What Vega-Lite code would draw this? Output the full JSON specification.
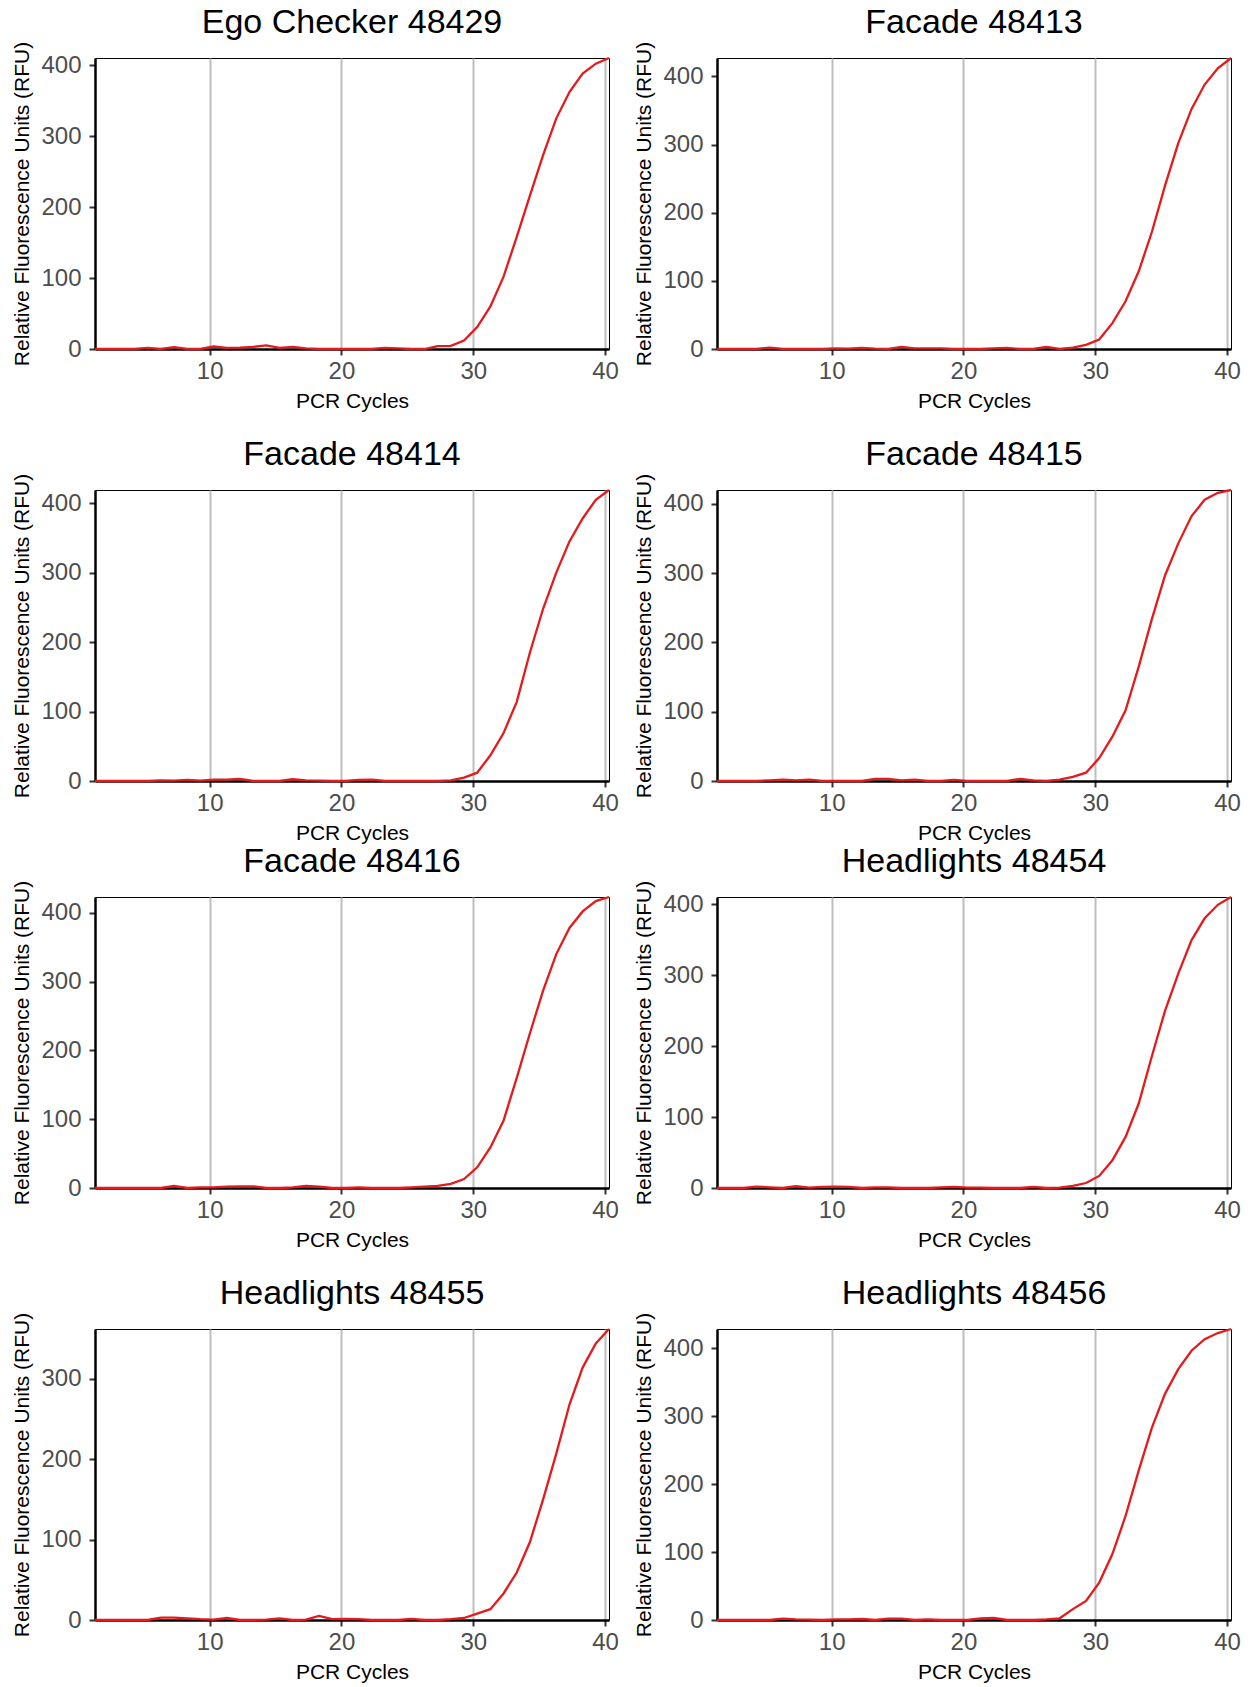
{
  "$schema": "https://vega.github.io/schema/vega-lite/v6.json",
  "background": "white",
  "padding": {"left": 11, "top": 5, "right": 0, "bottom": 0},
  "datasets": {
    "qpcr": [
      {"sample":"Ego Checker 48429","cycle":1.3,"rfu":0},{"sample":"Ego Checker 48429","cycle":2.3,"rfu":0},{"sample":"Ego Checker 48429","cycle":3.3,"rfu":0},{"sample":"Ego Checker 48429","cycle":4.3,"rfu":0},{"sample":"Ego Checker 48429","cycle":5.3,"rfu":1.5},{"sample":"Ego Checker 48429","cycle":6.3,"rfu":0},{"sample":"Ego Checker 48429","cycle":7.3,"rfu":2.5},{"sample":"Ego Checker 48429","cycle":8.3,"rfu":0},{"sample":"Ego Checker 48429","cycle":9.3,"rfu":0},{"sample":"Ego Checker 48429","cycle":10.3,"rfu":3.5},
      {"sample":"Ego Checker 48429","cycle":11.3,"rfu":1.5},{"sample":"Ego Checker 48429","cycle":12.3,"rfu":2},{"sample":"Ego Checker 48429","cycle":13.3,"rfu":3},{"sample":"Ego Checker 48429","cycle":14.3,"rfu":5},{"sample":"Ego Checker 48429","cycle":15.3,"rfu":1.5},{"sample":"Ego Checker 48429","cycle":16.3,"rfu":3},{"sample":"Ego Checker 48429","cycle":17.3,"rfu":1},{"sample":"Ego Checker 48429","cycle":18.3,"rfu":0},{"sample":"Ego Checker 48429","cycle":19.3,"rfu":0},{"sample":"Ego Checker 48429","cycle":20.3,"rfu":0},
      {"sample":"Ego Checker 48429","cycle":21.3,"rfu":0},{"sample":"Ego Checker 48429","cycle":22.3,"rfu":0},{"sample":"Ego Checker 48429","cycle":23.3,"rfu":1.5},{"sample":"Ego Checker 48429","cycle":24.3,"rfu":1},{"sample":"Ego Checker 48429","cycle":25.3,"rfu":0},{"sample":"Ego Checker 48429","cycle":26.3,"rfu":0},{"sample":"Ego Checker 48429","cycle":27.3,"rfu":4},{"sample":"Ego Checker 48429","cycle":28.3,"rfu":4.5},{"sample":"Ego Checker 48429","cycle":29.3,"rfu":12},{"sample":"Ego Checker 48429","cycle":30.3,"rfu":31},
      {"sample":"Ego Checker 48429","cycle":31.3,"rfu":60},{"sample":"Ego Checker 48429","cycle":32.3,"rfu":102},{"sample":"Ego Checker 48429","cycle":33.3,"rfu":158},{"sample":"Ego Checker 48429","cycle":34.3,"rfu":216},{"sample":"Ego Checker 48429","cycle":35.3,"rfu":273},{"sample":"Ego Checker 48429","cycle":36.3,"rfu":325},{"sample":"Ego Checker 48429","cycle":37.3,"rfu":362},{"sample":"Ego Checker 48429","cycle":38.3,"rfu":388},{"sample":"Ego Checker 48429","cycle":39.3,"rfu":402},{"sample":"Ego Checker 48429","cycle":40.3,"rfu":410},

      {"sample":"Facade 48413","cycle":1.3,"rfu":0},{"sample":"Facade 48413","cycle":2.3,"rfu":0},{"sample":"Facade 48413","cycle":3.3,"rfu":0},{"sample":"Facade 48413","cycle":4.3,"rfu":0},{"sample":"Facade 48413","cycle":5.3,"rfu":2},{"sample":"Facade 48413","cycle":6.3,"rfu":0},{"sample":"Facade 48413","cycle":7.3,"rfu":0},{"sample":"Facade 48413","cycle":8.3,"rfu":0},{"sample":"Facade 48413","cycle":9.3,"rfu":0},{"sample":"Facade 48413","cycle":10.3,"rfu":1},
      {"sample":"Facade 48413","cycle":11.3,"rfu":0.5},{"sample":"Facade 48413","cycle":12.3,"rfu":1.5},{"sample":"Facade 48413","cycle":13.3,"rfu":0.5},{"sample":"Facade 48413","cycle":14.3,"rfu":0},{"sample":"Facade 48413","cycle":15.3,"rfu":3},{"sample":"Facade 48413","cycle":16.3,"rfu":1},{"sample":"Facade 48413","cycle":17.3,"rfu":1},{"sample":"Facade 48413","cycle":18.3,"rfu":1},{"sample":"Facade 48413","cycle":19.3,"rfu":0},{"sample":"Facade 48413","cycle":20.3,"rfu":0},
      {"sample":"Facade 48413","cycle":21.3,"rfu":0},{"sample":"Facade 48413","cycle":22.3,"rfu":1},{"sample":"Facade 48413","cycle":23.3,"rfu":1.5},{"sample":"Facade 48413","cycle":24.3,"rfu":0},{"sample":"Facade 48413","cycle":25.3,"rfu":0},{"sample":"Facade 48413","cycle":26.3,"rfu":3},{"sample":"Facade 48413","cycle":27.3,"rfu":0},{"sample":"Facade 48413","cycle":28.3,"rfu":2},{"sample":"Facade 48413","cycle":29.3,"rfu":6},{"sample":"Facade 48413","cycle":30.3,"rfu":14},
      {"sample":"Facade 48413","cycle":31.3,"rfu":38},{"sample":"Facade 48413","cycle":32.3,"rfu":70},{"sample":"Facade 48413","cycle":33.3,"rfu":114},{"sample":"Facade 48413","cycle":34.3,"rfu":172},{"sample":"Facade 48413","cycle":35.3,"rfu":240},{"sample":"Facade 48413","cycle":36.3,"rfu":302},{"sample":"Facade 48413","cycle":37.3,"rfu":352},{"sample":"Facade 48413","cycle":38.3,"rfu":388},{"sample":"Facade 48413","cycle":39.3,"rfu":412},{"sample":"Facade 48413","cycle":40.3,"rfu":427},

      {"sample":"Facade 48414","cycle":1.3,"rfu":0},{"sample":"Facade 48414","cycle":2.3,"rfu":0},{"sample":"Facade 48414","cycle":3.3,"rfu":0},{"sample":"Facade 48414","cycle":4.3,"rfu":0},{"sample":"Facade 48414","cycle":5.3,"rfu":0},{"sample":"Facade 48414","cycle":6.3,"rfu":1},{"sample":"Facade 48414","cycle":7.3,"rfu":0.5},{"sample":"Facade 48414","cycle":8.3,"rfu":1.5},{"sample":"Facade 48414","cycle":9.3,"rfu":0.5},{"sample":"Facade 48414","cycle":10.3,"rfu":2},
      {"sample":"Facade 48414","cycle":11.3,"rfu":2},{"sample":"Facade 48414","cycle":12.3,"rfu":3},{"sample":"Facade 48414","cycle":13.3,"rfu":0},{"sample":"Facade 48414","cycle":14.3,"rfu":0},{"sample":"Facade 48414","cycle":15.3,"rfu":0},{"sample":"Facade 48414","cycle":16.3,"rfu":2.5},{"sample":"Facade 48414","cycle":17.3,"rfu":1},{"sample":"Facade 48414","cycle":18.3,"rfu":0.5},{"sample":"Facade 48414","cycle":19.3,"rfu":0},{"sample":"Facade 48414","cycle":20.3,"rfu":0},
      {"sample":"Facade 48414","cycle":21.3,"rfu":1.5},{"sample":"Facade 48414","cycle":22.3,"rfu":2},{"sample":"Facade 48414","cycle":23.3,"rfu":0},{"sample":"Facade 48414","cycle":24.3,"rfu":0},{"sample":"Facade 48414","cycle":25.3,"rfu":0},{"sample":"Facade 48414","cycle":26.3,"rfu":0},{"sample":"Facade 48414","cycle":27.3,"rfu":0},{"sample":"Facade 48414","cycle":28.3,"rfu":1},{"sample":"Facade 48414","cycle":29.3,"rfu":5},{"sample":"Facade 48414","cycle":30.3,"rfu":12},
      {"sample":"Facade 48414","cycle":31.3,"rfu":37},{"sample":"Facade 48414","cycle":32.3,"rfu":69},{"sample":"Facade 48414","cycle":33.3,"rfu":114},{"sample":"Facade 48414","cycle":34.3,"rfu":185},{"sample":"Facade 48414","cycle":35.3,"rfu":248},{"sample":"Facade 48414","cycle":36.3,"rfu":300},{"sample":"Facade 48414","cycle":37.3,"rfu":345},{"sample":"Facade 48414","cycle":38.3,"rfu":378},{"sample":"Facade 48414","cycle":39.3,"rfu":405},{"sample":"Facade 48414","cycle":40.3,"rfu":419},

      {"sample":"Facade 48415","cycle":1.3,"rfu":0},{"sample":"Facade 48415","cycle":2.3,"rfu":0},{"sample":"Facade 48415","cycle":3.3,"rfu":0},{"sample":"Facade 48415","cycle":4.3,"rfu":0},{"sample":"Facade 48415","cycle":5.3,"rfu":1},{"sample":"Facade 48415","cycle":6.3,"rfu":2},{"sample":"Facade 48415","cycle":7.3,"rfu":1},{"sample":"Facade 48415","cycle":8.3,"rfu":2},{"sample":"Facade 48415","cycle":9.3,"rfu":0},{"sample":"Facade 48415","cycle":10.3,"rfu":0},
      {"sample":"Facade 48415","cycle":11.3,"rfu":0},{"sample":"Facade 48415","cycle":12.3,"rfu":0},{"sample":"Facade 48415","cycle":13.3,"rfu":3},{"sample":"Facade 48415","cycle":14.3,"rfu":3},{"sample":"Facade 48415","cycle":15.3,"rfu":1},{"sample":"Facade 48415","cycle":16.3,"rfu":2},{"sample":"Facade 48415","cycle":17.3,"rfu":0},{"sample":"Facade 48415","cycle":18.3,"rfu":0},{"sample":"Facade 48415","cycle":19.3,"rfu":1.5},{"sample":"Facade 48415","cycle":20.3,"rfu":0},
      {"sample":"Facade 48415","cycle":21.3,"rfu":0},{"sample":"Facade 48415","cycle":22.3,"rfu":0},{"sample":"Facade 48415","cycle":23.3,"rfu":0},{"sample":"Facade 48415","cycle":24.3,"rfu":3},{"sample":"Facade 48415","cycle":25.3,"rfu":1},{"sample":"Facade 48415","cycle":26.3,"rfu":0},{"sample":"Facade 48415","cycle":27.3,"rfu":2},{"sample":"Facade 48415","cycle":28.3,"rfu":6},{"sample":"Facade 48415","cycle":29.3,"rfu":12},{"sample":"Facade 48415","cycle":30.3,"rfu":33},
      {"sample":"Facade 48415","cycle":31.3,"rfu":64},{"sample":"Facade 48415","cycle":32.3,"rfu":102},{"sample":"Facade 48415","cycle":33.3,"rfu":165},{"sample":"Facade 48415","cycle":34.3,"rfu":234},{"sample":"Facade 48415","cycle":35.3,"rfu":297},{"sample":"Facade 48415","cycle":36.3,"rfu":343},{"sample":"Facade 48415","cycle":37.3,"rfu":382},{"sample":"Facade 48415","cycle":38.3,"rfu":406},{"sample":"Facade 48415","cycle":39.3,"rfu":416},{"sample":"Facade 48415","cycle":40.3,"rfu":420},

      {"sample":"Facade 48416","cycle":1.3,"rfu":0},{"sample":"Facade 48416","cycle":2.3,"rfu":0},{"sample":"Facade 48416","cycle":3.3,"rfu":0},{"sample":"Facade 48416","cycle":4.3,"rfu":0},{"sample":"Facade 48416","cycle":5.3,"rfu":0},{"sample":"Facade 48416","cycle":6.3,"rfu":0},{"sample":"Facade 48416","cycle":7.3,"rfu":3},{"sample":"Facade 48416","cycle":8.3,"rfu":0},{"sample":"Facade 48416","cycle":9.3,"rfu":1},{"sample":"Facade 48416","cycle":10.3,"rfu":1},
      {"sample":"Facade 48416","cycle":11.3,"rfu":2},{"sample":"Facade 48416","cycle":12.3,"rfu":2.5},{"sample":"Facade 48416","cycle":13.3,"rfu":2.5},{"sample":"Facade 48416","cycle":14.3,"rfu":0},{"sample":"Facade 48416","cycle":15.3,"rfu":0},{"sample":"Facade 48416","cycle":16.3,"rfu":1},{"sample":"Facade 48416","cycle":17.3,"rfu":3},{"sample":"Facade 48416","cycle":18.3,"rfu":2},{"sample":"Facade 48416","cycle":19.3,"rfu":0},{"sample":"Facade 48416","cycle":20.3,"rfu":0},
      {"sample":"Facade 48416","cycle":21.3,"rfu":1},{"sample":"Facade 48416","cycle":22.3,"rfu":0},{"sample":"Facade 48416","cycle":23.3,"rfu":0},{"sample":"Facade 48416","cycle":24.3,"rfu":0},{"sample":"Facade 48416","cycle":25.3,"rfu":1},{"sample":"Facade 48416","cycle":26.3,"rfu":2},{"sample":"Facade 48416","cycle":27.3,"rfu":3},{"sample":"Facade 48416","cycle":28.3,"rfu":6},{"sample":"Facade 48416","cycle":29.3,"rfu":13},{"sample":"Facade 48416","cycle":30.3,"rfu":30},
      {"sample":"Facade 48416","cycle":31.3,"rfu":59},{"sample":"Facade 48416","cycle":32.3,"rfu":98},{"sample":"Facade 48416","cycle":33.3,"rfu":160},{"sample":"Facade 48416","cycle":34.3,"rfu":225},{"sample":"Facade 48416","cycle":35.3,"rfu":287},{"sample":"Facade 48416","cycle":36.3,"rfu":340},{"sample":"Facade 48416","cycle":37.3,"rfu":378},{"sample":"Facade 48416","cycle":38.3,"rfu":402},{"sample":"Facade 48416","cycle":39.3,"rfu":417},{"sample":"Facade 48416","cycle":40.3,"rfu":423},

      {"sample":"Headlights 48454","cycle":1.3,"rfu":0},{"sample":"Headlights 48454","cycle":2.3,"rfu":0},{"sample":"Headlights 48454","cycle":3.3,"rfu":0},{"sample":"Headlights 48454","cycle":4.3,"rfu":2},{"sample":"Headlights 48454","cycle":5.3,"rfu":1},{"sample":"Headlights 48454","cycle":6.3,"rfu":0},{"sample":"Headlights 48454","cycle":7.3,"rfu":2.5},{"sample":"Headlights 48454","cycle":8.3,"rfu":0.5},{"sample":"Headlights 48454","cycle":9.3,"rfu":1.5},{"sample":"Headlights 48454","cycle":10.3,"rfu":2},
      {"sample":"Headlights 48454","cycle":11.3,"rfu":1.5},{"sample":"Headlights 48454","cycle":12.3,"rfu":0},{"sample":"Headlights 48454","cycle":13.3,"rfu":1},{"sample":"Headlights 48454","cycle":14.3,"rfu":1},{"sample":"Headlights 48454","cycle":15.3,"rfu":0},{"sample":"Headlights 48454","cycle":16.3,"rfu":0},{"sample":"Headlights 48454","cycle":17.3,"rfu":0},{"sample":"Headlights 48454","cycle":18.3,"rfu":1},{"sample":"Headlights 48454","cycle":19.3,"rfu":1.5},{"sample":"Headlights 48454","cycle":20.3,"rfu":0.5},
      {"sample":"Headlights 48454","cycle":21.3,"rfu":0.5},{"sample":"Headlights 48454","cycle":22.3,"rfu":0},{"sample":"Headlights 48454","cycle":23.3,"rfu":0},{"sample":"Headlights 48454","cycle":24.3,"rfu":0},{"sample":"Headlights 48454","cycle":25.3,"rfu":1.5},{"sample":"Headlights 48454","cycle":26.3,"rfu":0},{"sample":"Headlights 48454","cycle":27.3,"rfu":0.5},{"sample":"Headlights 48454","cycle":28.3,"rfu":3},{"sample":"Headlights 48454","cycle":29.3,"rfu":7},{"sample":"Headlights 48454","cycle":30.3,"rfu":17},
      {"sample":"Headlights 48454","cycle":31.3,"rfu":39},{"sample":"Headlights 48454","cycle":32.3,"rfu":72},{"sample":"Headlights 48454","cycle":33.3,"rfu":119},{"sample":"Headlights 48454","cycle":34.3,"rfu":186},{"sample":"Headlights 48454","cycle":35.3,"rfu":250},{"sample":"Headlights 48454","cycle":36.3,"rfu":302},{"sample":"Headlights 48454","cycle":37.3,"rfu":349},{"sample":"Headlights 48454","cycle":38.3,"rfu":380},{"sample":"Headlights 48454","cycle":39.3,"rfu":399},{"sample":"Headlights 48454","cycle":40.3,"rfu":410},

      {"sample":"Headlights 48455","cycle":1.3,"rfu":0},{"sample":"Headlights 48455","cycle":2.3,"rfu":0},{"sample":"Headlights 48455","cycle":3.3,"rfu":0},{"sample":"Headlights 48455","cycle":4.3,"rfu":0},{"sample":"Headlights 48455","cycle":5.3,"rfu":0},{"sample":"Headlights 48455","cycle":6.3,"rfu":3},{"sample":"Headlights 48455","cycle":7.3,"rfu":3},{"sample":"Headlights 48455","cycle":8.3,"rfu":2},{"sample":"Headlights 48455","cycle":9.3,"rfu":1},{"sample":"Headlights 48455","cycle":10.3,"rfu":0.5},
      {"sample":"Headlights 48455","cycle":11.3,"rfu":2.5},{"sample":"Headlights 48455","cycle":12.3,"rfu":0},{"sample":"Headlights 48455","cycle":13.3,"rfu":0},{"sample":"Headlights 48455","cycle":14.3,"rfu":0.5},{"sample":"Headlights 48455","cycle":15.3,"rfu":2},{"sample":"Headlights 48455","cycle":16.3,"rfu":0},{"sample":"Headlights 48455","cycle":17.3,"rfu":0.5},{"sample":"Headlights 48455","cycle":18.3,"rfu":5},{"sample":"Headlights 48455","cycle":19.3,"rfu":1},{"sample":"Headlights 48455","cycle":20.3,"rfu":1.5},
      {"sample":"Headlights 48455","cycle":21.3,"rfu":1},{"sample":"Headlights 48455","cycle":22.3,"rfu":0},{"sample":"Headlights 48455","cycle":23.3,"rfu":0},{"sample":"Headlights 48455","cycle":24.3,"rfu":0},{"sample":"Headlights 48455","cycle":25.3,"rfu":1.5},{"sample":"Headlights 48455","cycle":26.3,"rfu":0},{"sample":"Headlights 48455","cycle":27.3,"rfu":0},{"sample":"Headlights 48455","cycle":28.3,"rfu":1},{"sample":"Headlights 48455","cycle":29.3,"rfu":2.5},{"sample":"Headlights 48455","cycle":30.3,"rfu":8},
      {"sample":"Headlights 48455","cycle":31.3,"rfu":13.5},{"sample":"Headlights 48455","cycle":32.3,"rfu":33},{"sample":"Headlights 48455","cycle":33.3,"rfu":59},{"sample":"Headlights 48455","cycle":34.3,"rfu":97},{"sample":"Headlights 48455","cycle":35.3,"rfu":150},{"sample":"Headlights 48455","cycle":36.3,"rfu":207},{"sample":"Headlights 48455","cycle":37.3,"rfu":268},{"sample":"Headlights 48455","cycle":38.3,"rfu":314},{"sample":"Headlights 48455","cycle":39.3,"rfu":344},{"sample":"Headlights 48455","cycle":40.3,"rfu":362},

      {"sample":"Headlights 48456","cycle":1.3,"rfu":0},{"sample":"Headlights 48456","cycle":2.3,"rfu":0},{"sample":"Headlights 48456","cycle":3.3,"rfu":0},{"sample":"Headlights 48456","cycle":4.3,"rfu":0},{"sample":"Headlights 48456","cycle":5.3,"rfu":0},{"sample":"Headlights 48456","cycle":6.3,"rfu":2},{"sample":"Headlights 48456","cycle":7.3,"rfu":1},{"sample":"Headlights 48456","cycle":8.3,"rfu":0.5},{"sample":"Headlights 48456","cycle":9.3,"rfu":0},{"sample":"Headlights 48456","cycle":10.3,"rfu":1},
      {"sample":"Headlights 48456","cycle":11.3,"rfu":1},{"sample":"Headlights 48456","cycle":12.3,"rfu":1.5},{"sample":"Headlights 48456","cycle":13.3,"rfu":0},{"sample":"Headlights 48456","cycle":14.3,"rfu":2},{"sample":"Headlights 48456","cycle":15.3,"rfu":2},{"sample":"Headlights 48456","cycle":16.3,"rfu":0},{"sample":"Headlights 48456","cycle":17.3,"rfu":1},{"sample":"Headlights 48456","cycle":18.3,"rfu":0},{"sample":"Headlights 48456","cycle":19.3,"rfu":0},{"sample":"Headlights 48456","cycle":20.3,"rfu":0},
      {"sample":"Headlights 48456","cycle":21.3,"rfu":2.5},{"sample":"Headlights 48456","cycle":22.3,"rfu":3},{"sample":"Headlights 48456","cycle":23.3,"rfu":0},{"sample":"Headlights 48456","cycle":24.3,"rfu":0},{"sample":"Headlights 48456","cycle":25.3,"rfu":0},{"sample":"Headlights 48456","cycle":26.3,"rfu":1},{"sample":"Headlights 48456","cycle":27.3,"rfu":2.5},{"sample":"Headlights 48456","cycle":28.3,"rfu":16},{"sample":"Headlights 48456","cycle":29.3,"rfu":28},{"sample":"Headlights 48456","cycle":30.3,"rfu":55},
      {"sample":"Headlights 48456","cycle":31.3,"rfu":97},{"sample":"Headlights 48456","cycle":32.3,"rfu":153},{"sample":"Headlights 48456","cycle":33.3,"rfu":220},{"sample":"Headlights 48456","cycle":34.3,"rfu":283},{"sample":"Headlights 48456","cycle":35.3,"rfu":333},{"sample":"Headlights 48456","cycle":36.3,"rfu":369},{"sample":"Headlights 48456","cycle":37.3,"rfu":396},{"sample":"Headlights 48456","cycle":38.3,"rfu":413},{"sample":"Headlights 48456","cycle":39.3,"rfu":422},{"sample":"Headlights 48456","cycle":40.3,"rfu":428}
    ]
  },
  "spacing": 0,
  "vconcat": [
    {
      "bounds": "flush",
      "spacing": 108,
      "hconcat": [
        {
          "title": "Ego Checker 48429",
          "width": 514, "height": 291,
          "data": {"name": "qpcr"},
          "transform": [{"filter": "datum.sample === 'Ego Checker 48429'"}],
          "mark": {"type": "line", "color": "#e41a1c", "strokeWidth": 2.3},
          "encoding": {
            "x": {"field": "cycle", "type": "quantitative", "scale": {"domain": [1.3, 40.3], "nice": false, "zero": false}, "axis": {"title": ["PCR Cycles", ""], "values": [10, 20, 30, 40]}},
            "y": {"field": "rfu", "type": "quantitative", "scale": {"nice": false, "zero": true}, "axis": {"title": "Relative Fluorescence Units (RFU)", "tickCount": 5}}
          }
        },
        {
          "title": "Facade 48413",
          "width": 514, "height": 291,
          "data": {"name": "qpcr"},
          "transform": [{"filter": "datum.sample === 'Facade 48413'"}],
          "mark": {"type": "line", "color": "#e41a1c", "strokeWidth": 2.3},
          "encoding": {
            "x": {"field": "cycle", "type": "quantitative", "scale": {"domain": [1.3, 40.3], "nice": false, "zero": false}, "axis": {"title": ["PCR Cycles", ""], "values": [10, 20, 30, 40]}},
            "y": {"field": "rfu", "type": "quantitative", "scale": {"nice": false, "zero": true}, "axis": {"title": "Relative Fluorescence Units (RFU)", "tickCount": 5}}
          }
        }
      ]
    },
    {
      "bounds": "flush",
      "spacing": 108,
      "hconcat": [
        {
          "title": "Facade 48414",
          "width": 514, "height": 291,
          "data": {"name": "qpcr"},
          "transform": [{"filter": "datum.sample === 'Facade 48414'"}],
          "mark": {"type": "line", "color": "#e41a1c", "strokeWidth": 2.3},
          "encoding": {
            "x": {"field": "cycle", "type": "quantitative", "scale": {"domain": [1.3, 40.3], "nice": false, "zero": false}, "axis": {"title": "PCR Cycles", "values": [10, 20, 30, 40]}},
            "y": {"field": "rfu", "type": "quantitative", "scale": {"nice": false, "zero": true}, "axis": {"title": "Relative Fluorescence Units (RFU)", "tickCount": 5}}
          }
        },
        {
          "title": "Facade 48415",
          "width": 514, "height": 291,
          "data": {"name": "qpcr"},
          "transform": [{"filter": "datum.sample === 'Facade 48415'"}],
          "mark": {"type": "line", "color": "#e41a1c", "strokeWidth": 2.3},
          "encoding": {
            "x": {"field": "cycle", "type": "quantitative", "scale": {"domain": [1.3, 40.3], "nice": false, "zero": false}, "axis": {"title": "PCR Cycles", "values": [10, 20, 30, 40]}},
            "y": {"field": "rfu", "type": "quantitative", "scale": {"nice": false, "zero": true}, "axis": {"title": "Relative Fluorescence Units (RFU)", "tickCount": 5}}
          }
        }
      ]
    },
    {
      "bounds": "flush",
      "spacing": 108,
      "hconcat": [
        {
          "title": "Facade 48416",
          "width": 514, "height": 291,
          "data": {"name": "qpcr"},
          "transform": [{"filter": "datum.sample === 'Facade 48416'"}],
          "mark": {"type": "line", "color": "#e41a1c", "strokeWidth": 2.3},
          "encoding": {
            "x": {"field": "cycle", "type": "quantitative", "scale": {"domain": [1.3, 40.3], "nice": false, "zero": false}, "axis": {"title": ["PCR Cycles", ""], "values": [10, 20, 30, 40]}},
            "y": {"field": "rfu", "type": "quantitative", "scale": {"nice": false, "zero": true}, "axis": {"title": "Relative Fluorescence Units (RFU)", "tickCount": 5}}
          }
        },
        {
          "title": "Headlights 48454",
          "width": 514, "height": 291,
          "data": {"name": "qpcr"},
          "transform": [{"filter": "datum.sample === 'Headlights 48454'"}],
          "mark": {"type": "line", "color": "#e41a1c", "strokeWidth": 2.3},
          "encoding": {
            "x": {"field": "cycle", "type": "quantitative", "scale": {"domain": [1.3, 40.3], "nice": false, "zero": false}, "axis": {"title": ["PCR Cycles", ""], "values": [10, 20, 30, 40]}},
            "y": {"field": "rfu", "type": "quantitative", "scale": {"nice": false, "zero": true}, "axis": {"title": "Relative Fluorescence Units (RFU)", "tickCount": 5}}
          }
        }
      ]
    },
    {
      "bounds": "flush",
      "spacing": 108,
      "hconcat": [
        {
          "title": "Headlights 48455",
          "width": 514, "height": 291,
          "data": {"name": "qpcr"},
          "transform": [{"filter": "datum.sample === 'Headlights 48455'"}],
          "mark": {"type": "line", "color": "#e41a1c", "strokeWidth": 2.3},
          "encoding": {
            "x": {"field": "cycle", "type": "quantitative", "scale": {"domain": [1.3, 40.3], "nice": false, "zero": false}, "axis": {"title": "PCR Cycles", "values": [10, 20, 30, 40]}},
            "y": {"field": "rfu", "type": "quantitative", "scale": {"nice": false, "zero": true}, "axis": {"title": "Relative Fluorescence Units (RFU)", "tickCount": 5}}
          }
        },
        {
          "title": "Headlights 48456",
          "width": 514, "height": 291,
          "data": {"name": "qpcr"},
          "transform": [{"filter": "datum.sample === 'Headlights 48456'"}],
          "mark": {"type": "line", "color": "#e41a1c", "strokeWidth": 2.3},
          "encoding": {
            "x": {"field": "cycle", "type": "quantitative", "scale": {"domain": [1.3, 40.3], "nice": false, "zero": false}, "axis": {"title": "PCR Cycles", "values": [10, 20, 30, 40]}},
            "y": {"field": "rfu", "type": "quantitative", "scale": {"nice": false, "zero": true}, "axis": {"title": "Relative Fluorescence Units (RFU)", "tickCount": 5}}
          }
        }
      ]
    }
  ],
  "config": {
    "font": "Liberation Sans",
    "view": {"stroke": "#000000", "strokeWidth": 1},
    "title": {"fontSize": 34, "fontWeight": "normal", "color": "#000000", "anchor": "middle", "baseline": "alphabetic", "offset": 1, "font": "Liberation Sans"},
    "axis": {
      "domainColor": "#000000", "domainWidth": 2.5,
      "tickColor": "#333333", "tickWidth": 2, "tickSize": 6,
      "labelFont": "Liberation Sans", "labelFontSize": 24, "labelColor": "#4d4d4d", "labelFlush": false, "labelOverlap": false,
      "titleFont": "Liberation Sans", "titleFontSize": 21, "titleFontWeight": "normal", "titleColor": "#000000",
      "zindex": 1
    },
    "axisX": {"grid": true, "gridColor": "#bebebe", "gridWidth": 2, "labelPadding": 4, "titlePadding": 7, "titleLineHeight": 25},
    "axisY": {"grid": false, "labelPadding": 8, "titlePadding": 8}
  }
}
